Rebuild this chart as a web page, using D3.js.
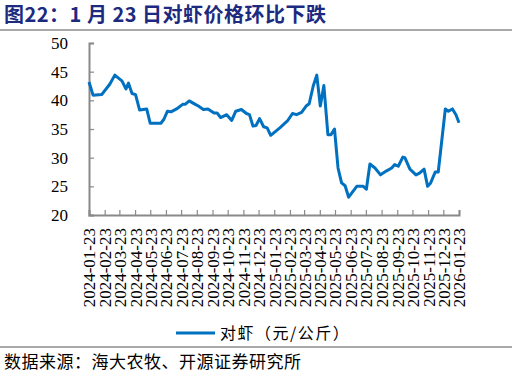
<!DOCTYPE html>
<html>
<head>
<meta charset="utf-8">
<script src="https://cdn.jsdelivr.net/npm/d3@7"></script>
<style>
  body { margin: 0; background: #fff; }
  svg { display: block; }
</style>
</head>
<body>
<svg id="graph"></svg>
<script>
// Données (prix hebdo approximatifs)
const dates = [
  "2024-01-23","2024-01-31","2024-02-17","2024-03-04","2024-03-14","2024-03-28","2024-04-05","2024-04-10",
  "2024-04-17","2024-04-24","2024-05-02","2024-05-16","2024-05-23","2024-06-13","2024-06-19","2024-06-26",
  "2024-07-03","2024-07-14","2024-07-26","2024-07-31","2024-08-08","2024-08-20","2024-08-26","2024-09-05",
  "2024-09-14","2024-09-26","2024-10-02","2024-10-09","2024-10-21","2024-10-31","2024-11-08","2024-11-19",
  "2024-11-29","2024-12-05","2024-12-12","2024-12-18","2024-12-25","2025-01-02","2025-01-09","2025-01-16",
  "2025-02-03","2025-02-18","2025-02-28","2025-03-08","2025-03-18","2025-03-27","2025-04-02","2025-04-10",
  "2025-04-17","2025-04-24","2025-05-01","2025-05-09","2025-05-15","2025-05-22","2025-05-29","2025-06-05",
  "2025-06-12","2025-06-19","2025-07-05","2025-07-18","2025-07-24","2025-07-31","2025-08-10","2025-08-21",
  "2025-09-02","2025-09-12","2025-09-18","2025-09-25","2025-10-04","2025-10-08","2025-10-18","2025-10-30",
  "2025-11-06","2025-11-15","2025-11-22","2025-11-28","2025-12-07","2025-12-13","2025-12-27","2026-01-02",
  "2026-01-10","2026-01-17","2026-01-23"
];
const prix = [
  43.2, 40.9, 41.0, 42.8, 44.4, 43.4, 42.0, 43.0,
  41.2, 41.0, 38.3, 38.5, 36.0, 36.0, 36.7, 38.1,
  38.0, 38.5, 39.3, 39.3, 39.9, 39.3, 39.0, 38.4,
  38.5, 37.8, 37.8, 37.0, 37.5, 36.5, 38.1, 38.4,
  37.7, 37.5, 35.5, 35.6, 36.8, 35.4, 35.2, 33.9,
  35.2, 36.4, 37.7, 37.5, 37.9, 39.0, 39.4, 42.5,
  44.4, 39.0, 42.6, 34.0, 34.0, 35.0, 28.2, 25.6,
  25.1, 23.1, 25.0, 25.0, 24.5, 28.9, 28.2, 27.0,
  27.7, 28.2, 28.8, 28.5, 30.1, 30.0, 28.0, 27.0,
  27.3, 28.0, 25.0, 25.6, 27.5, 27.5, 38.5, 38.1,
  38.5, 37.5, 36.1
];
const ticksX = [
  "2024-01-23","2024-02-23","2024-03-23","2024-04-23","2024-05-23","2024-06-23","2024-07-23",
  "2024-08-23","2024-09-23","2024-10-23","2024-11-23","2024-12-23","2025-01-23","2025-02-23",
  "2025-03-23","2025-04-23","2025-05-23","2025-06-23","2025-07-23","2025-08-23","2025-09-23",
  "2025-10-23","2025-11-23","2025-12-23","2026-01-23"
];
const ticksY = [20, 25, 30, 35, 40, 45, 50];

const titre = "图22：1 月 23 日对虾价格环比下跌";
const legende = "对虾（元/公斤）";
const source = "数据来源：海大农牧、开源证券研究所";

const largeur = 516, hauteur = 374;
const parse = d3.timeParse("%Y-%m-%d");
const points = dates.map((d, i) => ({ date: parse(d), v: prix[i] }));

const svg = d3.select("#graph").attr("width", largeur).attr("height", hauteur);
svg.append("rect").attr("width", largeur).attr("height", hauteur).attr("fill", "#fff");

// Titre et filets
svg.append("text")
  .attr("x", 4).attr("y", 22)
  .attr("font-family", "'Noto Sans CJK SC', sans-serif")
  .attr("font-weight", "bold")
  .attr("font-size", 20)
  .attr("letter-spacing", 0.5)
  .attr("fill", "#1c2a80")
  .text(titre);
svg.append("line").attr("x1", 0).attr("x2", 512).attr("y1", 30).attr("y2", 30)
  .attr("stroke", "#8c8c8c").attr("stroke-width", 1.5);
svg.append("line").attr("x1", 0).attr("x2", 512).attr("y1", 347).attr("y2", 347)
  .attr("stroke", "#8c8c8c").attr("stroke-width", 1.5);

// Échelles
const x = d3.scaleTime()
  .domain([parse(ticksX[0]), parse(ticksX[ticksX.length - 1])])
  .range([89, 459]);
const y = d3.scaleLinear().domain([20, 50]).range([215, 43]);

// Axe Y
const axeY = svg.append("g").attr("transform", "translate(89,0)")
  .call(d3.axisLeft(y).tickValues(ticksY).tickSize(-5).tickPadding(21).tickFormat(d3.format("d")));
axeY.select(".domain").attr("stroke", "#898989").attr("stroke-width", 2);
axeY.selectAll(".tick line").attr("stroke", "#898989").attr("stroke-width", 1.2);
axeY.selectAll(".tick text")
  .attr("font-family", "'Liberation Serif', serif").attr("font-size", 17).attr("fill", "#000");

// Axe X
const axeX = svg.append("g").attr("transform", "translate(0,215)")
  .call(d3.axisBottom(x).tickValues(ticksX.map(parse)).tickSize(-5).tickFormat(d3.timeFormat("%Y-%m-%d")));
axeX.select(".domain").attr("stroke", "#898989").attr("stroke-width", 2);
axeX.selectAll(".tick line").attr("stroke", "#898989").attr("stroke-width", 1.2);
axeX.selectAll(".tick text")
  .attr("font-family", "'Liberation Serif', serif").attr("font-size", 17).attr("fill", "#000")
  .attr("text-anchor", "end")
  .attr("transform", "rotate(-90)")
  .attr("x", -13).attr("y", 0).attr("dy", "0.35em");

// Courbe
const ligne = d3.line().x(d => x(d.date)).y(d => y(d.v));
svg.append("path").datum(points)
  .attr("d", ligne)
  .attr("fill", "none")
  .attr("stroke", "#0070c0")
  .attr("stroke-width", 3)
  .attr("stroke-linejoin", "round");

// Légende
svg.append("line").attr("x1", 176).attr("x2", 215).attr("y1", 333).attr("y2", 333)
  .attr("stroke", "#0070c0").attr("stroke-width", 3);
svg.append("text").attr("x", 220).attr("y", 339)
  .attr("font-family", "'Noto Sans CJK SC', sans-serif").attr("font-size", 16)
  .attr("letter-spacing", 1.5).attr("fill", "#000")
  .text(legende);

// Source
svg.append("text").attr("x", 4).attr("y", 368)
  .attr("font-family", "'Noto Sans CJK SC', sans-serif").attr("font-size", 17)
  .attr("letter-spacing", 0.5).attr("fill", "#000")
  .text(source);
</script>
</body>
</html>
